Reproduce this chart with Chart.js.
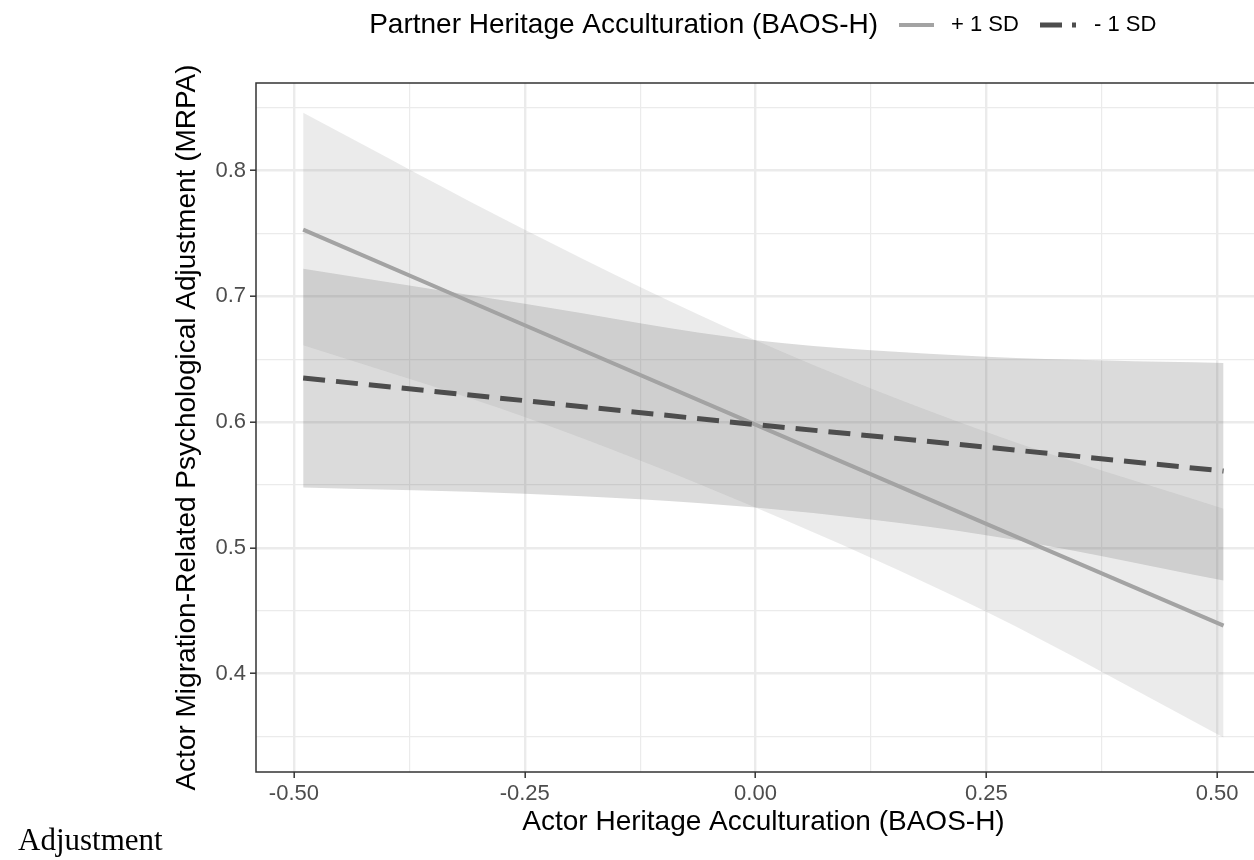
<!DOCTYPE html>
<html>
<head>
<meta charset="utf-8">
<script src="https://cdn.jsdelivr.net/npm/chart.js@4.4.1/dist/chart.umd.min.js"></script>
<style>
  html, body { margin: 0; padding: 0; background: #fff; overflow: hidden; }
  #wrap { position: relative; width: 1254px; height: 860px; overflow: hidden; }
  #chart { position: absolute; left: 0; top: 0; }
  #stray { position: absolute; left: 18px; top: 822px; font-family: "Liberation Serif", "Times New Roman", serif; font-size: 31px; color: #000; }
</style>
</head>
<body>
<div id="wrap">
  <canvas id="chart" width="1290" height="860"></canvas>
  <div id="stray">Adjustment</div>
</div>
<script>
// actor heritage acculturation values where the band was read
const xVals = [-0.49, -0.25, 0, 0.25, 0.507]

// partner + 1 SD
const hiFit = [0.753, 0.677, 0.598, 0.519, 0.438]
const hiUpper = [0.846, 0.753, 0.665, 0.592, 0.531]
const hiLower = [0.661, 0.604, 0.532, 0.449, 0.349]

// partner - 1 SD
const loFit = [0.635, 0.617, 0.598, 0.580, 0.561]
const loUpper = [0.722, 0.694, 0.665, 0.652, 0.647]
const loLower = [0.548, 0.543, 0.532, 0.510, 0.474]

const xTicks = [-0.5, -0.375, -0.25, -0.125, 0, 0.125, 0.25, 0.375, 0.5]
const xMajor = [-0.5, -0.25, 0, 0.25, 0.5]
const yTicks = [0.35, 0.4, 0.45, 0.5, 0.55, 0.6, 0.65, 0.7, 0.75, 0.8, 0.85]
const yMajor = [0.4, 0.5, 0.6, 0.7, 0.8]

const legendTitle = 'Partner Heritage Acculturation (BAOS-H)'
const legendLabels = ['+ 1 SD', '- 1 SD']

const FONT = '"Liberation Sans", Arial, Helvetica, sans-serif'
const pts = arr => arr.map((v, i) => ({ x: xVals[i], y: v }))
const isMajor = (list, v) => list.some(m => Math.abs(m - v) < 1e-6)

// upper edge fills down to the next dataset (its lower edge)
const ribbon = (data, fill, order) => ({
  data: pts(data),
  borderWidth: 0,
  pointRadius: 0,
  backgroundColor: fill,
  fill: fill ? '+1' : false,
  cubicInterpolationMode: 'monotone',
  order: order
})

// panel border + the legend along the top
const extras = {
  id: 'extras',
  afterDraw(chart) {
    const { ctx, chartArea: a } = chart
    ctx.save()
    ctx.strokeStyle = '#333333'
    ctx.lineWidth = 1.5
    ctx.strokeRect(a.left, a.top, a.right - a.left, a.bottom - a.top)

    const y = 25
    ctx.textBaseline = 'middle'
    ctx.fillStyle = '#000'
    ctx.font = '28px ' + FONT
    ctx.textAlign = 'right'
    ctx.fillText(legendTitle, 878, y)

    ctx.textAlign = 'left'
    ctx.font = '22px ' + FONT
    ctx.lineWidth = 4
    ctx.strokeStyle = '#a3a3a3'
    ctx.beginPath(); ctx.moveTo(899, y); ctx.lineTo(934, y); ctx.stroke()
    ctx.fillStyle = '#000'
    ctx.fillText(legendLabels[0], 951, y)

    ctx.lineWidth = 5
    ctx.strokeStyle = '#4d4d4d'
    ctx.setLineDash([22, 10])
    ctx.beginPath(); ctx.moveTo(1040, y); ctx.lineTo(1076, y); ctx.stroke()
    ctx.setLineDash([])
    ctx.fillText(legendLabels[1], 1094, y)
    ctx.restore()
  }
}

new Chart(document.getElementById('chart'), {
  type: 'line',
  data: {
    datasets: [
      ribbon(hiUpper, 'rgba(153,153,153,0.2)', 10),
      ribbon(hiLower, null, 11),
      ribbon(loUpper, 'rgba(77,77,77,0.2)', 12),
      ribbon(loLower, null, 13),
      {
        label: legendLabels[0],
        data: pts(hiFit),
        borderColor: '#a3a3a3',
        borderWidth: 4,
        pointRadius: 0,
        fill: false,
        order: 1
      },
      {
        label: legendLabels[1],
        data: pts(loFit),
        borderColor: '#4d4d4d',
        borderWidth: 5,
        borderDash: [22, 11],
        pointRadius: 0,
        fill: false,
        order: 0
      }
    ]
  },
  options: {
    responsive: false,
    animation: false,
    devicePixelRatio: 1,
    layout: { padding: { top: 83, left: 170, right: 19, bottom: 0 } },
    plugins: {
      legend: { display: false },
      tooltip: { enabled: false },
      filler: { propagate: false }
    },
    scales: {
      x: {
        type: 'linear',
        min: -0.5411,
        max: 0.5584,
        afterFit: s => { s.height = 88 },
        afterBuildTicks: s => { s.ticks = xTicks.map(v => ({ value: v })) },
        border: { display: false },
        grid: {
          color: '#ebebeb',
          lineWidth: c => isMajor(xMajor, c.tick.value) ? 2.4 : 1.2,
          tickColor: c => isMajor(xMajor, c.tick.value) ? '#333333' : 'rgba(0,0,0,0)',
          tickLength: 6,
          tickWidth: 1.5
        },
        ticks: {
          autoSkip: false,
          maxRotation: 0,
          padding: 3,
          color: '#4d4d4d',
          font: { family: FONT, size: 22 },
          callback: v => isMajor(xMajor, v) ? v.toFixed(2) : ''
        },
        title: {
          display: true,
          text: 'Actor Heritage Acculturation (BAOS-H)',
          color: '#000',
          font: { family: FONT, size: 28 },
          padding: { top: 0, bottom: 21 }
        }
      },
      y: {
        type: 'linear',
        min: 0.3216,
        max: 0.8697,
        afterFit: s => { s.width = 86 },
        afterBuildTicks: s => { s.ticks = yTicks.map(v => ({ value: v })) },
        border: { display: false },
        grid: {
          color: '#ebebeb',
          lineWidth: c => isMajor(yMajor, c.tick.value) ? 2.4 : 1.2,
          tickColor: c => isMajor(yMajor, c.tick.value) ? '#333333' : 'rgba(0,0,0,0)',
          tickLength: 6,
          tickWidth: 1.5
        },
        ticks: {
          autoSkip: false,
          padding: 4,
          color: '#4d4d4d',
          font: { family: FONT, size: 22 },
          callback: v => isMajor(yMajor, v) ? v.toFixed(1) : ''
        },
        title: {
          display: true,
          text: 'Actor Migration-Related Psychological Adjustment (MRPA)',
          color: '#000',
          font: { family: FONT, size: 28 },
          padding: { top: 0, bottom: 0 }
        }
      }
    }
  },
  plugins: [extras]
})
</script>
</body>
</html>
